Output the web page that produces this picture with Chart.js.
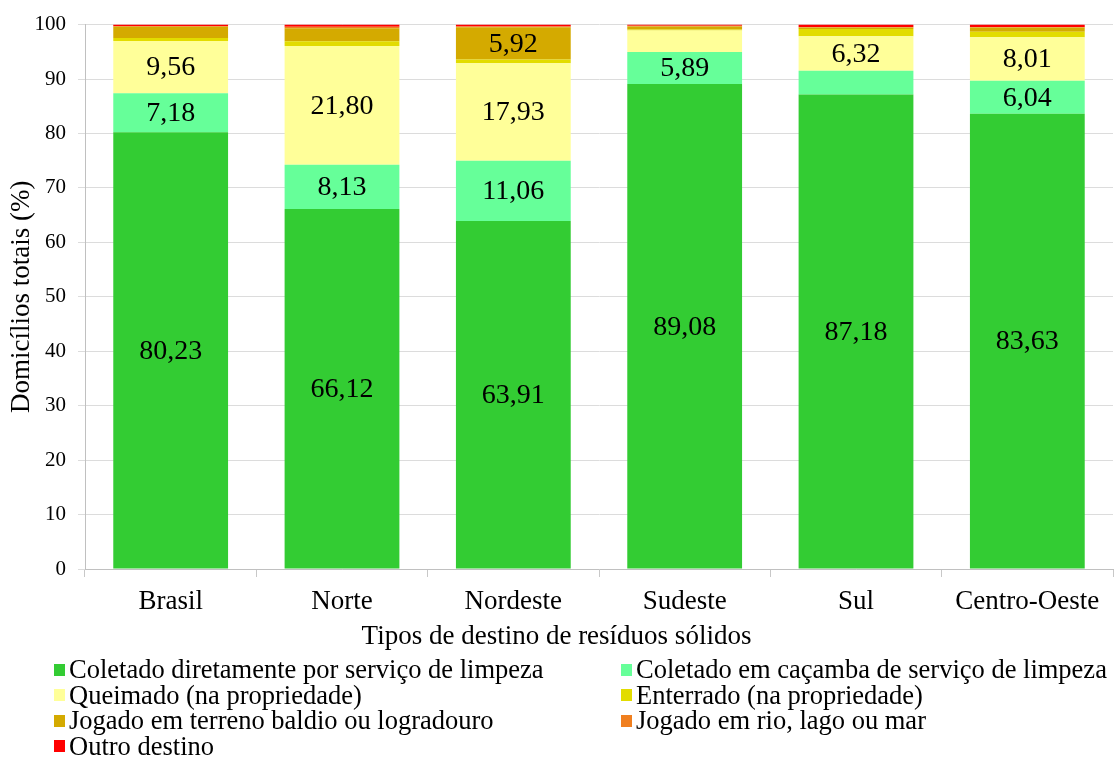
<!DOCTYPE html>
<html>
<head>
<meta charset="utf-8">
<script src="https://cdn.jsdelivr.net/npm/chart.js@4.4.0/dist/chart.umd.min.js"></script>
<style>
  html, body { margin: 0; padding: 0; background: #ffffff; }
  #wrap { position: relative; width: 1114px; height: 757px; overflow: hidden; }
  #c { position: absolute; left: 0; top: 0; }
  #legend { position: absolute; left: 54px; top: 657px; width: 1060px;
    font-family: "Liberation Serif", serif; font-size: 26.5px; color: #000;
    display: grid; grid-template-columns: 567px 490px; row-gap: 0px; }
  .item { display: flex; align-items: center; height: 25.5px; white-space: nowrap; }
  .sw { width: 11px; height: 12px; margin-right: 4px; flex: none; }
</style>
</head>
<body>
<div id="wrap">
  <canvas id="c" width="1114" height="660"></canvas>
  <div id="legend"></div>
</div>
<script>
const categories = ["Brasil", "Norte", "Nordeste", "Sudeste", "Sul", "Centro-Oeste"];
const seriesNames = [
  "Coletado diretamente por serviço de limpeza",
  "Coletado em caçamba de serviço de limpeza",
  "Queimado (na propriedade)",
  "Enterrado (na propriedade)",
  "Jogado em terreno baldio ou logradouro",
  "Jogado em rio, lago ou mar",
  "Outro destino"
];
const coletadoDireto = [80.23, 66.12, 63.91, 89.08, 87.18, 83.63];
const coletadoCacamba = [7.18, 8.13, 11.06, 5.89, 4.35, 6.04];
const queimado = [9.56, 21.80, 17.93, 3.95, 6.32, 8.01];
const enterrado = [0.55, 0.90, 0.70, 0.20, 1.35, 1.00];
const jogadoTerreno = [2.10, 2.40, 5.92, 0.55, 0.25, 0.80];
const jogadoRio = [0.13, 0.25, 0.15, 0.10, 0.10, 0.10];
const outroDestino = [0.25, 0.40, 0.33, 0.23, 0.45, 0.42];
const yTicks = [0, 10, 20, 30, 40, 50, 60, 70, 80, 90, 100];
const colors = ["#33CC33", "#66FF99", "#FFFF99", "#E2DC00", "#D4AA00", "#F07F1F", "#FF0000"];
const seriesValues = [coletadoDireto, coletadoCacamba, queimado, enterrado, jogadoTerreno, jogadoRio, outroDestino];

const serif = "'Liberation Serif', serif";

const labelPlugin = {
  id: "segLabels",
  afterDatasetsDraw(chart) {
    const ctx = chart.ctx;
    ctx.save();
    ctx.font = "28px " + serif;
    ctx.fillStyle = "#000";
    ctx.textAlign = "center";
    ctx.textBaseline = "middle";
    chart.data.datasets.forEach((ds, di) => {
      const meta = chart.getDatasetMeta(di);
      meta.data.forEach((bar, i) => {
        const v = ds.data[i];
        if (v >= 5) {
          const yMid = (bar.y + bar.base) / 2;
          ctx.fillText(v.toFixed(2).replace(".", ","), bar.x, yMid + 1);
        }
      });
    });
    ctx.restore();
  }
};

const titleBox = 27 * 1.2 + 7;

const chart = new Chart(document.getElementById("c"), {
  type: "bar",
  data: {
    labels: categories,
    datasets: seriesNames.map((n, k) => ({
      label: n,
      data: seriesValues[k],
      backgroundColor: colors[k],
      borderWidth: 0,
      categoryPercentage: 1.0,
      barPercentage: 0.67
    }))
  },
  options: {
    responsive: false,
    animation: false,
    layout: { padding: { top: 24, right: 1, left: 0, bottom: 0 } },
    plugins: {
      legend: { display: false },
      tooltip: { enabled: false },
      title: {
        display: true, position: "bottom", align: "center",
        text: "Tipos de destino de resíduos sólidos", color: "#000",
        font: { family: serif, size: 27, weight: "normal" },
        padding: { top: 0, bottom: 7 }
      }
    },
    scales: {
      x: {
        stacked: true,
        afterFit(s) { s.height = 91 - titleBox; },
        grid: { offset: true, drawOnChartArea: false, tickLength: 8, color: "#c8c8c8", lineWidth: 1 },
        border: { color: "#c0c0c0" },
        ticks: { color: "#000", font: { family: serif, size: 27 }, padding: 9 }
      },
      y: {
        stacked: true,
        min: 0, max: 100,
        afterFit(s) { s.width = 85; },
        afterBuildTicks(s) { s.ticks = yTicks.map(v => ({ value: v })); },
        grid: { color: "#dcdcdc", tickLength: 7, lineWidth: 1 },
        border: { color: "#c0c0c0" },
        ticks: { color: "#000", font: { family: serif, size: 21 }, padding: 12 },
        title: { display: true, text: "Domicílios totais (%)", color: "#000",
                 font: { family: serif, size: 27 }, padding: { top: 6, bottom: 0 } }
      }
    }
  },
  plugins: [labelPlugin]
});

const lg = document.getElementById("legend");
seriesNames.forEach((n, k) => {
  const d = document.createElement("div");
  d.className = "item";
  d.innerHTML = '<span class="sw" style="background:' + colors[k] + '"></span><span>' + n + '</span>';
  lg.appendChild(d);
});
</script>
</body>
</html>
